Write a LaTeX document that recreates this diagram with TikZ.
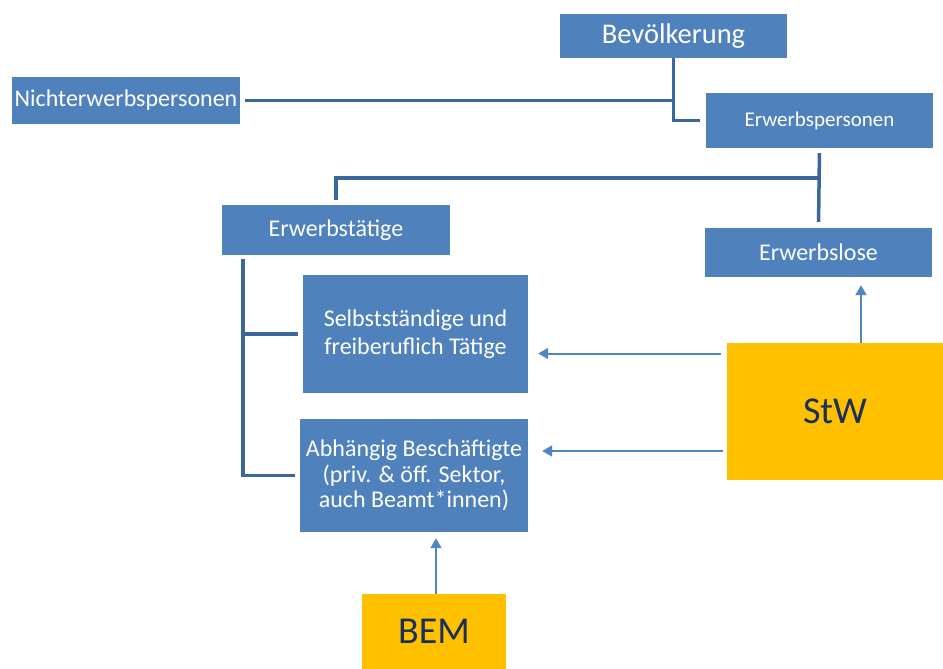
\documentclass[tikz,border=0pt]{standalone}
\usepackage{fontspec}
\setmainfont{Carlito}
\usetikzlibrary{arrows.meta}
\definecolor{boxblue}{HTML}{4F81BD}
\definecolor{linkblue}{HTML}{3A679E}
\definecolor{arrblue}{HTML}{4F86C6}
\definecolor{gold}{HTML}{FFC000}
\definecolor{navy}{HTML}{1B2F5E}
\tikzset{
  bluebox/.style={fill=boxblue, draw=none, text=white, inner sep=0pt, align=center,
    font=\fontsize{24}{27}\selectfont},
  goldbox/.style={fill=gold, draw=none, text=navy, inner sep=0pt,
    font=\fontsize{38}{40}\selectfont},
  link/.style={draw=linkblue, line width=3.5pt},
  arr/.style={draw=arrblue, line width=2pt, -{Triangle[width=11pt,length=10pt]}}
}
\begin{document}
\begin{tikzpicture}[x=1pt,y=-1pt]
\useasboundingbox (0,0) rectangle (943,669);
\node[bluebox, minimum width=227pt, minimum height=44pt, font=\fontsize{28.5}{30}\selectfont] (bev) at (673.5,36) {Bevölkerung};
\node[bluebox, minimum width=228pt, minimum height=47pt] (nicht) at (126,100.5) {Nichterwerbspersonen};
\node[bluebox, minimum width=227pt, minimum height=55pt, font=\fontsize{21}{24}\selectfont] (erwp) at (819.5,120.5) {Erwerbspersonen};
\node[bluebox, minimum width=228pt, minimum height=50pt] (erwt) at (336,230) {Erwerbstätige};
\node[bluebox, minimum width=227pt, minimum height=49pt] (erwl) at (818.5,252.5) {Erwerbslose};
\node[bluebox, minimum width=225pt, minimum height=118pt, font=\fontsize{24}{28}\selectfont] (sel) at (415.5,334) {Selbstständige und\\freiberuflich Tätige};
\node[bluebox, minimum width=228pt, minimum height=113pt, font=\fontsize{24}{25.5}\selectfont] (abh) at (414,475.5) {Abhängig Beschäftigte\\(priv. \& öff. Sektor,\\auch Beamt*innen)};
\node[goldbox, minimum width=216pt, minimum height=137pt] (stw) at (835,411.5) {StW};
\node[goldbox, minimum width=144pt, minimum height=75pt] (bem) at (434,631.5) {BEM};
% tree connectors
\draw[link, shorten >=6pt] (bev.south) |- (erwp.west);
\draw[link, shorten <=5pt] (nicht.east) -- (nicht.east -| bev.south);
\draw[link, shorten <=5pt, shorten >=6pt] (erwp.south) -- (erwl.north);
\coordinate (j) at (820,178);
\draw[link, shorten >=5pt] (j) -| (erwt.north);
\draw[link, shorten <=4pt, shorten >=5pt] ([xshift=21pt]erwt.south west) |- (abh.west);
\draw[link, shorten >=5pt] ([xshift=21pt]erwt.south west |- sel.west) -- (sel.west);
% arrows
\draw[arr, shorten <=6pt, shorten >=10pt] ([yshift=58pt]stw.west) -- ([yshift=58pt]stw.west -| sel.east);
\draw[arr, shorten <=4pt, shorten >=14pt] ([yshift=-39.5pt]stw.west) -- ([yshift=-39.5pt]stw.west -| abh.east);
\draw[arr, shorten >=8pt] ([xshift=26pt]stw.north) -- ([xshift=26pt]stw.north |- erwl.south);
\draw[arr, shorten >=6pt] ([xshift=2pt]bem.north) -- ([xshift=2pt]bem.north |- abh.south);
\end{tikzpicture}
\end{document}
